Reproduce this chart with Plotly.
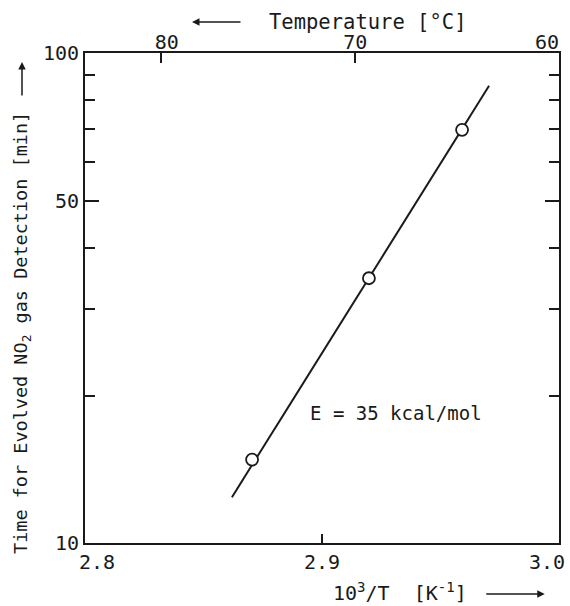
import plotly.graph_objects as go
import numpy as np

# data
inv_T = [2.8705, 2.9198, 2.9591]          # 10^3/T [K^-1]
time_min = [14.8, 34.7, 69.7]             # time [min]
fit_x = [2.862, 2.9705]                   # fitted line ends
fit_y = [12.4, 85.7]
temp_labels = ["\u00a080", "70", "60\u00a0\u00a0"]
temp_pos = [2.832, 2.914, 3.0]
x_ticks = [2.8, 2.9, 3.0]
x_ticktext = ["\u00a0\u00a02.8", "2.9", "3.0\u00a0\u00a0"]
y_major = [10, 50, 100]
y_minor = [20, 30, 40, 60, 70, 80, 90]

FONT = "DejaVu Sans Mono"
INK = "#1a1a1a"
TS = 20

fig = go.Figure()
fig.add_trace(go.Scatter(x=fit_x, y=fit_y, mode="lines",
                         line=dict(color=INK, width=2), showlegend=False))
fig.add_trace(go.Scatter(x=inv_T, y=time_min, mode="markers",
                         marker=dict(symbol="circle", size=12, color="white",
                                     line=dict(color=INK, width=1.8)),
                         showlegend=False))
# dummy trace on x2 to activate top axis
fig.add_trace(go.Scatter(x=[2.8], y=[10], xaxis="x2", mode="markers",
                         marker=dict(opacity=0), showlegend=False, hoverinfo="skip"))

fig.update_layout(
    width=570, height=606,
    margin=dict(l=85, r=11, t=53, b=63, autoexpand=False),
    paper_bgcolor="white", plot_bgcolor="white",
    font=dict(family=FONT, size=TS, color=INK),
    xaxis=dict(range=[2.8, 3.0], tickvals=x_ticks, ticktext=x_ticktext,
               ticks="inside", ticklen=9, tickwidth=1.5, tickcolor=INK,
               showline=True, linecolor=INK, linewidth=2, mirror=False,
               ticklabeloverflow="allow", automargin=False,
               showgrid=False, zeroline=False, tickfont=dict(size=TS)),
    xaxis2=dict(range=[2.8, 3.0], overlaying="x", side="top",
                tickvals=temp_pos, ticktext=temp_labels,
                ticks="inside", ticklen=10, tickwidth=1.5, tickcolor=INK,
                showline=True, linecolor=INK, linewidth=2,
                ticklabeloverflow="allow", ticklabelstandoff=-6, automargin=False,
                showgrid=False, zeroline=False, tickfont=dict(size=TS)),
    yaxis=dict(type="log", range=[1, 2], tickvals=y_major,
               ticktext=[str(v) for v in y_major],
               ticks="inside", ticklen=14, tickwidth=1.5, tickcolor=INK,
               minor=dict(tickvals=y_minor, ticks="inside", ticklen=10,
                          tickwidth=1.5, tickcolor=INK, showgrid=False),
               showline=True, linecolor=INK, linewidth=2, mirror="ticks",
               automargin=False,
               showgrid=False, zeroline=False, tickfont=dict(size=TS)),
)

# top axis title with left arrow
fig.add_annotation(xref="paper", yref="paper", x=0.596, y=1.0, yshift=31,
                   text="Temperature [°C]", showarrow=False,
                   font=dict(size=20.5), xanchor="center", yanchor="middle")
fig.add_annotation(xref="paper", yref="paper", x=0.2257, y=1.0, yshift=31,
                   ax=50, ay=0, text="", showarrow=True, arrowhead=2,
                   arrowsize=1, arrowwidth=1.5, arrowcolor=INK)

# bottom axis title with right arrow
fig.add_annotation(xref="paper", yref="paper", x=0.665, y=0.0, yshift=-49,
                   text="10<sup>3</sup>/T  [K<sup>-1</sup>]", showarrow=False,
                   font=dict(size=20), xanchor="center", yanchor="middle")
fig.add_annotation(xref="paper", yref="paper", x=0.970, y=0.0, yshift=-51,
                   ax=-60, ay=0, text="", showarrow=True, arrowhead=2,
                   arrowsize=1, arrowwidth=1.5, arrowcolor=INK)

# y axis title with up arrow
fig.add_annotation(xref="paper", yref="paper", x=0.0, xshift=-63, y=0.4286,
                   text="Time for Evolved NO<sub>2</sub> gas Detection [min]",
                   textangle=-90, showarrow=False, font=dict(size=18.5),
                   xanchor="center", yanchor="middle")
fig.add_annotation(xref="paper", yref="paper", x=0.0, xshift=-63, y=0.9816,
                   ax=0, ay=35, text="", showarrow=True, arrowhead=2,
                   arrowsize=1, arrowwidth=1.5, arrowcolor=INK)

# activation energy label
fig.add_annotation(x=2.9312, y=np.log10(18.4), xref="x", yref="y",
                   text="E = 35 kcal/mol", showarrow=False,
                   font=dict(size=19), xanchor="center", yanchor="middle")

fig.write_html("out.html")
